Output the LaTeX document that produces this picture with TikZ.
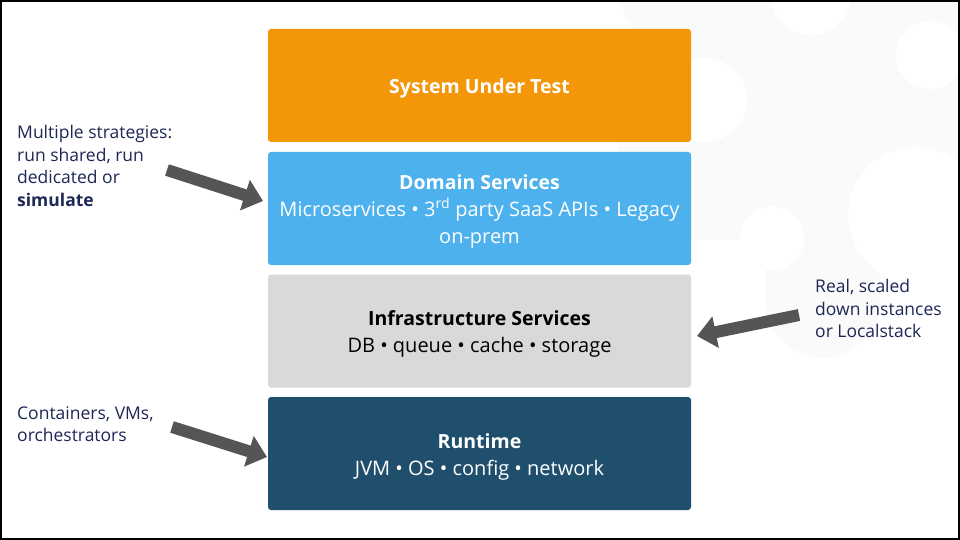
\documentclass[tikz,border=0pt]{standalone}
\usepackage{fontspec}
\setmainfont{Open Sans}
\newfontfamily\labelfont{Open Sans}
\usetikzlibrary{arrows.meta}
\definecolor{sutorange}{HTML}{F39709}
\definecolor{domblue}{HTML}{4DB1EE}
\definecolor{infragray}{HTML}{D9D9D9}
\definecolor{rundark}{HTML}{1F4F6D}
\definecolor{navytext}{HTML}{1E2856}
\definecolor{arrowgray}{HTML}{555555}
\definecolor{blobgray}{HTML}{FAFAFA}
\newcommand{\ttl}[1]{{\fontsize{19.5}{27}\selectfont\bfseries #1}}
\tikzset{
  layerbox/.style={rounded corners=3pt, minimum width=423pt, minimum height=113pt, inner sep=0pt, draw=none},
  layertext/.style={align=center, inner sep=0pt, yshift=-3pt, font={\fontsize{20}{27}\selectfont}},
  sidelabel/.style={anchor=north west, inner sep=0pt, align=left, text=navytext,
    font={\labelfont\fontsize{17.5}{22.6}\selectfont}},
  fatarrow/.style={draw=arrowgray, line width=12pt, -{Triangle[length=19pt,width=31pt]}},
}
\begin{document}
\begin{tikzpicture}[x=1pt,y=-1pt]
\useasboundingbox (0,0) rectangle (960,540);
\fill[white] (0,0) rectangle (960,540);
% faint background blob
\begin{scope}
\fill[blobgray] (618,0) rectangle (960,240);
\fill[blobgray] (765,200) rectangle (880,305);
\fill[blobgray] (822.5,300) circle (57.5);
\fill[white] (811,-5) circle (40);
\fill[white] (930,55) circle (34);
\fill[white] (705,100) circle (42);
\fill[white] (772,238) circle (32);
\fill[white] (740,238) rectangle (765,245);
\fill[white] (916,215) circle (68);
\fill[white] (618,0) .. controls (625,15) and (630,25) .. (640,40) -- (618,40) -- cycle;
\end{scope}
% layers
\node[layerbox, fill=sutorange, label={[layertext, text=white]center:\ttl{System Under Test}}] (sut) at (479.5,85.5) {};
\node[layerbox, fill=domblue, label={[layertext, text=white]center:{\ttl{Domain Services}\\Microservices • 3\textsuperscript{rd} party SaaS APIs • Legacy\\on-prem}}] (dom) at (479.5,208.5) {};
\node[layerbox, fill=infragray, label={[layertext, text=black]center:{\ttl{Infrastructure Services}\\DB • queue • cache • storage}}] (infra) at (479.5,331) {};
\node[layerbox, fill=rundark, label={[layertext, text=white]center:{\ttl{Runtime}\\JVM • OS • config • network}}] (run) at (479.5,453.5) {};
% side labels
\node[sidelabel] (lbl1) at (17,125) {Multiple strategies:\\run shared, run\\dedicated or\\\textbf{simulate}};
\node[sidelabel] (lbl2) at (815,279) {Real, scaled\\down instances\\or Localstack};
\node[sidelabel] (lbl3) at (17,406) {Containers, VMs,\\orchestrators};
% arrows
\coordinate (a1s) at (167,170);
\coordinate (a1e) at (263,201);
\coordinate (a2s) at (799,315);
\coordinate (a2e) at (697,336);
\coordinate (a3s) at (172,427);
\coordinate (a3e) at (267,457);
\draw[fatarrow] (a1s) -- (a1e);
\draw[fatarrow] (a2s) -- (a2e);
\draw[fatarrow] (a3s) -- (a3e);
% frame
\draw[black, line width=2pt] (1,1) rectangle (959,539);
\end{tikzpicture}
\end{document}
